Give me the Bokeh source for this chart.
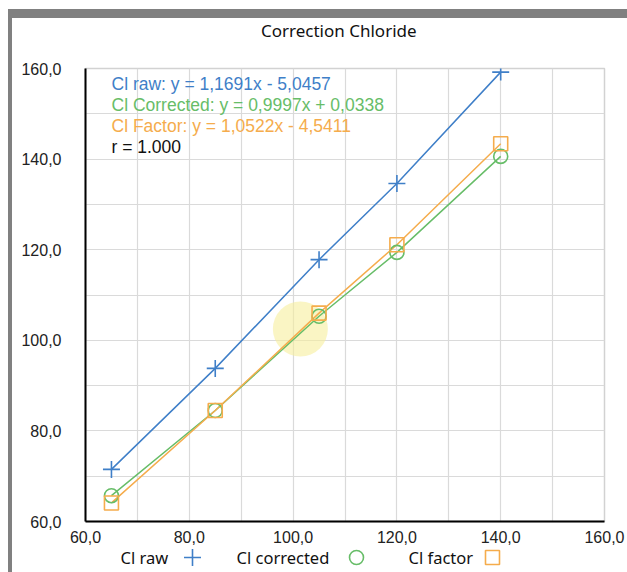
from bokeh.plotting import figure
from bokeh.layouts import column, row
from bokeh.models import Label, FixedTicker, Range1d, Div
from bokeh.core.properties import value
from bokeh.embed import file_html
from bokeh.resources import INLINE

# Reference concentrations and measured chloride values
x_ref = [65, 85, 105, 120, 140]
cl_raw = [71.5, 93.8, 117.8, 134.6, 159.2]
cl_corrected = [65.7, 84.5, 105.3, 119.4, 140.6]
cl_factor = [64.1, 84.5, 106.0, 121.1, 143.4]

x_ticks = [60, 80, 100, 120, 140, 160]
y_ticks = [60, 80, 100, 120, 140, 160]
grid_ticks = list(range(60, 161, 10))

chart_title = "Correction Chloride"
series_names = ["Cl raw", "Cl corrected", "Cl factor"]
fit_texts = [
    "Cl raw: y = 1,1691x - 5,0457",
    "Cl Corrected: y = 0,9997x + 0,0338",
    "Cl Factor: y = 1,0522x - 4,5411",
    "r = 1.000",
]

BLUE = "#3f7fc8"
GREEN = "#67bd68"
ORANGE = "#f5ac4c"
FRAME_GRAY = "#808080"
TEXT_FONT = "Liberation Sans"
UI_FONT = "Noto Sans"


def fmt(v):
    return f"{v:.1f}".replace(".", ",")


p = figure(
    width=615, height=506,
    x_range=Range1d(60, 160), y_range=Range1d(60, 160),
    min_border_left=73, min_border_right=23,
    min_border_top=26, min_border_bottom=27,
    toolbar_location=None, output_backend="svg", margin=0,
)
p.background_fill_color = "white"
p.border_fill_color = "white"
p.outline_line_color = "#d2d2d2"
p.outline_line_width = 1.5

# grid every 10 units, labels every 20
for g in (p.xgrid, p.ygrid):
    g.ticker = FixedTicker(ticks=grid_ticks)
    g.grid_line_color = "#dadada"
    g.grid_line_width = 1.2

for ax, ticks in ((p.xaxis, x_ticks), (p.yaxis, y_ticks)):
    ax.ticker = FixedTicker(ticks=ticks)
    ax.major_label_overrides = {t: fmt(t) for t in ticks}
    ax.major_tick_line_color = None
    ax.minor_tick_line_color = None
    ax.major_tick_in = 0
    ax.major_tick_out = 0
    ax.axis_line_color = "black"
    ax.axis_line_width = 2
    ax.major_label_text_font = TEXT_FONT
    ax.major_label_text_font_size = "16px"
    ax.major_label_text_color = "#222222"
p.xaxis.major_label_standoff = 9
p.yaxis.major_label_standoff = 24

# soft pointer highlight
p.scatter([101.4], [102.5], size=55, marker="circle",
          fill_color="#f6ef9c", fill_alpha=0.6, line_color=None)

p.line(x_ref, cl_raw, line_color=BLUE, line_width=1.5)
p.line(x_ref, cl_corrected, line_color=GREEN, line_width=1.5)
p.line(x_ref, cl_factor, line_color=ORANGE, line_width=1.5)

p.scatter(x_ref, cl_raw, marker="cross", size=17, line_color=BLUE, line_width=1.6)
p.scatter(x_ref, cl_corrected, marker="circle", size=14, line_color=GREEN,
          line_width=1.6, fill_color=None)
p.scatter(x_ref, cl_factor, marker="square", size=14, line_color=ORANGE,
          line_width=1.6, fill_color=None)

# regression equations (offsets from the frame's bottom-left corner)
fit_colors = [BLUE, GREEN, ORANGE, "#111111"]
for i, (t, c) in enumerate(zip(fit_texts, fit_colors)):
    p.add_layout(Label(x=26, y=438 - 21 * i, x_units="screen", y_units="screen",
                       text=t, text_color=c, text_font=TEXT_FONT,
                       text_font_size="17.5px", text_baseline="alphabetic"))

# legend row: series name followed by its marker (frame aligned with the chart's,
# so the x range is given in page pixels)
leg = figure(width=615, height=24, x_range=Range1d(85, 604), y_range=Range1d(0, 24),
             min_border=0, toolbar_location=None, output_backend="svg", margin=0,
             x_axis_location=None, y_axis_location=None)
leg.grid.visible = False
leg.outline_line_color = None
legend_text_x = [120, 236, 408]
legend_mark_x = [192, 356, 492]
leg.text(legend_text_x, [15, 15, 15], text=series_names, text_font_size="16.5px",
         text_font=value(UI_FONT), text_color="#111111", text_baseline="middle")
leg.scatter([legend_mark_x[0]], [15], marker="cross", size=17, line_color=BLUE, line_width=1.6)
leg.scatter([legend_mark_x[1]], [15], marker="circle", size=14, line_color=GREEN,
            line_width=1.6, fill_color=None)
leg.scatter([legend_mark_x[2]], [15], marker="square", size=14, line_color=ORANGE,
            line_width=1.6, fill_color=None)

title_div = Div(
    text=chart_title, width=615, height=24, margin=0,
    styles={"font-family": UI_FONT, "font-size": "17px", "color": "#111111",
            "text-indent": "249px", "padding-top": "1px", "white-space": "nowrap"},
)


def band(w, h, color):
    return Div(text="", width=w, height=h, margin=0,
               styles={"background-color": color})


layout = row(
    band(8, 572, "white"),
    column(
        band(619, 9, "white"),
        band(619, 9, FRAME_GRAY),
        row(band(4, 554, FRAME_GRAY), column(title_div, p, leg, spacing=0, margin=0),
            spacing=0, margin=0),
        spacing=0, margin=0,
    ),
    spacing=0, margin=0,
)

open("out.html", "w").write(file_html(layout, INLINE))
